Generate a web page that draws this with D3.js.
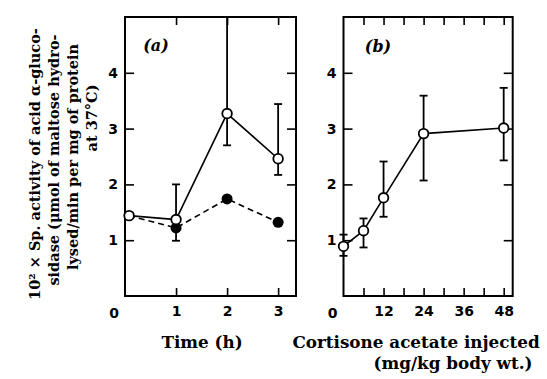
<!DOCTYPE html>
<html>
<head>
<meta charset="utf-8">
<script src="https://cdn.jsdelivr.net/npm/d3@7"></script>
<style>
  body { margin: 0; background: #fff; }
  svg { display: block; }
  .tick text { font-family: "DejaVu Sans", sans-serif; font-weight: bold; font-size: 14px; }
  .title { font-family: "DejaVu Serif", serif; font-weight: bold; }
</style>
</head>
<body>
<div id="chart"></div>
<script>
// Panel (a): time course
const timeA = [0.08, 1, 2, 3];
const openA = [1.44, 1.37, 3.27, 2.46];
const openLowA = [null, 0.99, 2.70, 2.17];
const openHighA = [null, 2.00, 5.00, 3.44];
const filledTimeA = [0.08, 1, 2, 3];
const filledA = [1.44, 1.22, 1.74, 1.32];

// Panel (b): dose response
const doseB = [0, 6, 12, 24, 48];
const openB = [0.89, 1.17, 1.76, 2.91, 3.01];
const lowB = [0.72, 0.87, 1.42, 2.07, 2.43];
const highB = [1.10, 1.39, 2.41, 3.59, 3.73];

const yTicks = [1, 2, 3, 4];
const xTicksA = [1, 2, 3];
const xTicksB = [6, 12, 18, 24, 30, 36, 42, 48];
const xLabelsB = [12, 24, 36, 48];

const width = 547, height = 379;
const svg = d3.select("#chart").append("svg")
    .attr("width", width)
    .attr("height", height);

const y = d3.scaleLinear().domain([0, 5]).range([296, 17]);

function drawFrame(g, x, xTicks, xLabels) {
    const [l, r] = x.range();
    const [b, t] = y.range();

    // inward ticks on all four sides
    g.append("g").attr("transform", "translate(" + l + ",0)")
        .call(d3.axisLeft(y).tickValues(yTicks).tickSize(-9).tickPadding(7).tickFormat(d3.format("d")))
        .call(a => a.select(".domain").remove());
    g.append("g").attr("transform", "translate(" + r + ",0)")
        .call(d3.axisRight(y).tickValues(yTicks).tickSize(-9).tickFormat(""))
        .call(a => a.select(".domain").remove());
    g.append("g").attr("transform", "translate(0," + b + ")")
        .call(d3.axisBottom(x).tickValues(xTicks).tickSize(-8).tickPadding(10)
            .tickFormat(d => xLabels.includes(d) ? d : ""))
        .call(a => a.select(".domain").remove());
    g.append("g").attr("transform", "translate(0," + t + ")")
        .call(d3.axisTop(x).tickValues(xTicks).tickSize(-8).tickFormat(""))
        .call(a => a.select(".domain").remove());

    g.selectAll(".tick line").attr("stroke", "#000").attr("stroke-width", 1.6);
    g.selectAll(".tick text").attr("fill", "#000");

    g.append("rect")
        .attr("x", l).attr("y", t)
        .attr("width", r - l).attr("height", b - t)
        .attr("fill", "none").attr("stroke", "#000").attr("stroke-width", 2);

    // origin label
    g.append("text")
        .attr("x", l - 11).attr("y", b + 22)
        .attr("text-anchor", "middle")
        .style("font-family", "DejaVu Sans, sans-serif")
        .style("font-weight", "bold").style("font-size", "14px")
        .text("0");
}

function errorBars(g, x, xs, lo, hi) {
    xs.forEach((d, i) => {
        if (lo[i] == null) return;
        const cx = x(d);
        g.append("line").attr("x1", cx).attr("x2", cx)
            .attr("y1", y(lo[i])).attr("y2", y(hi[i]))
            .attr("stroke", "#000").attr("stroke-width", 1.8);
        [lo[i], hi[i]].forEach(v => {
            if (v >= 5) return;
            g.append("line").attr("x1", cx - 4).attr("x2", cx + 4)
                .attr("y1", y(v)).attr("y2", y(v))
                .attr("stroke", "#000").attr("stroke-width", 1.8);
        });
    });
}

// ---- panel (a)
const xA = d3.scaleLinear().domain([0, 3.35]).range([125, 296]);
const gA = svg.append("g");
drawFrame(gA, xA, xTicksA, xTicksA);
errorBars(gA, xA, timeA, openLowA, openHighA);

gA.append("path")
    .datum(filledTimeA.map((t, i) => [t, filledA[i]]))
    .attr("fill", "none").attr("stroke", "#000").attr("stroke-width", 1.6)
    .attr("stroke-dasharray", "6,4")
    .attr("d", d3.line().x(d => xA(d[0])).y(d => y(d[1])));
gA.append("path")
    .datum(timeA.map((t, i) => [t, openA[i]]))
    .attr("fill", "none").attr("stroke", "#000").attr("stroke-width", 1.6)
    .attr("d", d3.line().x(d => xA(d[0])).y(d => y(d[1])));

gA.selectAll(".filled")
    .data(filledTimeA.slice(1).map((t, i) => [t, filledA[i + 1]]))
    .join("circle")
    .attr("cx", d => xA(d[0])).attr("cy", d => y(d[1]))
    .attr("r", 5.5).attr("fill", "#000");
gA.selectAll(".open")
    .data(timeA.map((t, i) => [t, openA[i]]))
    .join("circle")
    .attr("cx", d => xA(d[0])).attr("cy", d => y(d[1]))
    .attr("r", 4.8).attr("fill", "#fff").attr("stroke", "#000").attr("stroke-width", 1.8);

gA.append("text")
    .attr("x", 156).attr("y", 51)
    .attr("text-anchor", "middle")
    .style("font-family", "DejaVu Serif, serif").style("font-style", "italic")
    .style("font-weight", "bold").style("font-size", "16px")
    .text("(a)");

// ---- panel (b)
const xB = d3.scaleLinear().domain([0, 50.7]).range([343.5, 512.7]);
const gB = svg.append("g");
drawFrame(gB, xB, xTicksB, xLabelsB);
errorBars(gB, xB, doseB, lowB, highB);

gB.append("path")
    .datum(doseB.map((d, i) => [d, openB[i]]))
    .attr("fill", "none").attr("stroke", "#000").attr("stroke-width", 1.6)
    .attr("d", d3.line().x(d => xB(d[0])).y(d => y(d[1])));
gB.selectAll(".open")
    .data(doseB.map((d, i) => [d, openB[i]]))
    .join("circle")
    .attr("cx", d => xB(d[0])).attr("cy", d => y(d[1]))
    .attr("r", 4.8).attr("fill", "#fff").attr("stroke", "#000").attr("stroke-width", 1.8);

gB.append("text")
    .attr("x", 378).attr("y", 52)
    .attr("text-anchor", "middle")
    .style("font-family", "DejaVu Serif, serif").style("font-style", "italic")
    .style("font-weight", "bold").style("font-size", "16px")
    .text("(b)");

// ---- axis titles
svg.append("text").attr("class", "title")
    .attr("x", 202).attr("y", 348)
    .attr("text-anchor", "middle").style("font-size", "16.8px")
    .text("Time (h)");
svg.append("text").attr("class", "title")
    .attr("x", 416).attr("y", 348)
    .attr("text-anchor", "middle").style("font-size", "16.8px")
    .text("Cortisone acetate injected");
svg.append("text").attr("class", "title")
    .attr("x", 453).attr("y", 369)
    .attr("text-anchor", "middle").style("font-size", "16.8px")
    .text("(mg/kg body wt.)");

const yTitle = [
    { text: "10² × Sp. activity of acid α-gluco-", x: 40, y: 164 },
    { text: "sidase (μmol of maltose hydro-", x: 59, y: 160 },
    { text: "lysed/min per mg of protein", x: 78, y: 157 },
    { text: "at 37°C)", x: 97, y: 118 }
];
yTitle.forEach(l => {
    svg.append("text").attr("class", "title")
        .attr("transform", "translate(" + l.x + "," + l.y + ") rotate(-90)")
        .attr("text-anchor", "middle").style("font-size", "14.5px")
        .text(l.text);
});
</script>
</body>
</html>
